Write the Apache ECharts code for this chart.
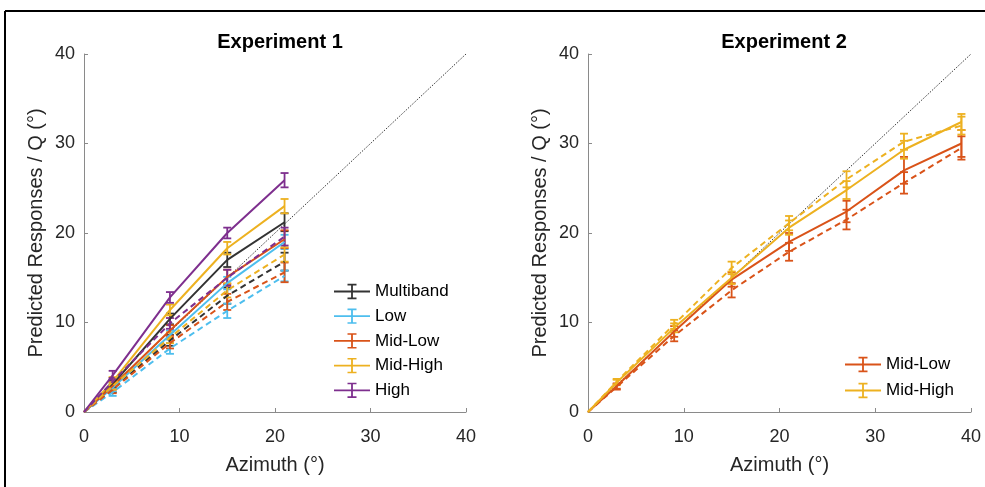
<!DOCTYPE html>
<html>
<head>
<meta charset="utf-8">
<title>Predicted responses</title>
<script src="https://cdn.jsdelivr.net/npm/echarts@6.0.0/dist/echarts.min.js"></script>
<style>
  html, body { margin: 0; padding: 0; background: #fff; }
  #chart { width: 985px; height: 487px; }
</style>
</head>
<body>
<div id="chart"></div>
<script>
// ---- data ----
var axisTicks = [0, 10, 20, 30, 40];

// Experiment 1
var exp1Azimuth = [0, 3, 9, 15, 21];
var exp1Names = ['Multiband', 'Low', 'Mid-Low', 'Mid-High', 'High'];
var exp1Resp = {
  'Multiband': [0, 3.1, 10.4, 17.0, 21.2],
  'Low':       [0, 2.7, 8.6, 14.4, 19.0],
  'Mid-Low':   [0, 2.9, 9.1, 15.1, 19.3],
  'Mid-High':  [0, 3.4, 11.4, 18.3, 23.0],
  'High':      [0, 4.1, 12.8, 20.0, 25.9]
};
var exp1RespErr = {
  'Multiband': [0, 0.4, 0.6, 0.8, 1.0],
  'Low':       [0, 0.4, 0.5, 0.7, 0.8],
  'Mid-Low':   [0, 0.4, 0.6, 0.8, 1.0],
  'Mid-High':  [0, 0.5, 0.6, 0.7, 0.8],
  'High':      [0, 0.5, 0.6, 0.6, 0.8]
};
var exp1Q = {
  'Multiband': [0, 2.6, 8.0, 13.0, 16.8],
  'Low':       [0, 2.2, 7.1, 11.3, 15.2],
  'Mid-Low':   [0, 2.5, 7.7, 12.3, 15.6],
  'Mid-High':  [0, 2.9, 8.3, 13.6, 17.6],
  'High':      [0, 3.4, 9.9, 15.0, 19.6]
};
var exp1QErr = {
  'Multiband': [0, 0.4, 0.6, 0.9, 1.0],
  'Low':       [0, 0.4, 0.6, 0.8, 0.6],
  'Mid-Low':   [0, 0.4, 0.6, 0.9, 1.1],
  'Mid-High':  [0, 0.4, 0.6, 0.8, 0.8],
  'High':      [0, 0.4, 0.6, 0.9, 1.0]
};

// Experiment 2
var exp2Azimuth = [0, 3, 9, 15, 21, 27, 33, 39];
var exp2Names = ['Mid-Low', 'Mid-High'];
var exp2Resp = {
  'Mid-Low':  [0, 2.9, 9.0, 14.8, 19.0, 22.4, 27.0, 30.0],
  'Mid-High': [0, 3.3, 9.4, 15.0, 20.6, 24.8, 29.3, 32.4]
};
var exp2RespErr = {
  'Mid-Low':  [0, 0.3, 0.6, 0.8, 1.0, 1.2, 1.5, 1.5],
  'Mid-High': [0, 0.3, 0.5, 0.7, 0.8, 1.0, 1.0, 0.9]
};
var exp2Q = {
  'Mid-Low':  [0, 2.8, 8.5, 13.6, 17.9, 21.5, 25.6, 29.5],
  'Mid-High': [0, 3.4, 9.8, 16.1, 21.1, 26.0, 30.2, 32.0]
};
var exp2QErr = {
  'Mid-Low':  [0, 0.3, 0.6, 0.8, 1.0, 1.1, 1.2, 1.3],
  'Mid-High': [0, 0.3, 0.5, 0.7, 0.8, 0.9, 0.9, 1.0]
};

var colors = {
  'Multiband': '#333333',
  'Low': '#4DBEEE',
  'Mid-Low': '#D95319',
  'Mid-High': '#EDB120',
  'High': '#7E2F8E'
};

var FONT = 'Liberation Sans';
var errIcon = 'path://M0 9H40V11H0Z M19 1.5H21V18.5H19Z M15 1.5H25V3.3H15Z M15 16.7H25V18.5H15Z';

function zipXY(xs, ys) {
  return xs.map(function (x, i) { return [x, ys[i]]; });
}

function errData(xs, ys, es) {
  var out = [];
  xs.forEach(function (x, i) {
    if (es[i] > 0) out.push([x, ys[i] - es[i], ys[i] + es[i]]);
  });
  return out;
}

function renderErr(params, api) {
  var x = api.value(0);
  var lo = api.coord([x, api.value(1)]);
  var hi = api.coord([x, api.value(2)]);
  var c = 4;
  var st = { stroke: api.visual('color'), lineWidth: 1.8 };
  return {
    type: 'group',
    children: [
      { type: 'line', shape: { x1: lo[0], y1: lo[1], x2: hi[0], y2: hi[1] }, style: st },
      { type: 'line', shape: { x1: lo[0] - c, y1: lo[1], x2: lo[0] + c, y2: lo[1] }, style: st },
      { type: 'line', shape: { x1: hi[0] - c, y1: hi[1], x2: hi[0] + c, y2: hi[1] }, style: st }
    ]
  };
}

function lineSeries(name, idx, data, color, dashed) {
  return {
    name: name, type: 'line', xAxisIndex: idx, yAxisIndex: idx,
    data: data, symbol: 'none', silent: true, animation: false,
    lineStyle: { color: color, width: 2, type: dashed ? [6, 4] : 'solid' },
    itemStyle: { color: color }
  };
}

function errSeries(name, idx, data, color) {
  return {
    name: name, type: 'custom', xAxisIndex: idx, yAxisIndex: idx,
    data: data, renderItem: renderErr, silent: true, animation: false,
    encode: { x: 0, y: [1, 2] },
    itemStyle: { color: color }
  };
}

var series = [];
[0, 1].forEach(function (idx) {
  series.push({
    name: 'unity' + idx, type: 'line', xAxisIndex: idx, yAxisIndex: idx,
    data: [[0, 0], [40, 40]], symbol: 'none', silent: true, animation: false,
    lineStyle: { color: '#000', width: 0.8, type: [1.5, 1.5] }, z: 1
  });
});

exp1Names.forEach(function (n) {
  var c = colors[n];
  series.push(lineSeries(n + ' Q', 0, zipXY(exp1Azimuth, exp1Q[n]), c, true));
  series.push(errSeries(n + ' Q', 0, errData(exp1Azimuth, exp1Q[n], exp1QErr[n]), c));
  series.push(lineSeries(n, 0, zipXY(exp1Azimuth, exp1Resp[n]), c, false));
  series.push(errSeries(n, 0, errData(exp1Azimuth, exp1Resp[n], exp1RespErr[n]), c));
});
exp2Names.forEach(function (n) {
  var c = colors[n];
  series.push(lineSeries('E2 ' + n + ' Q', 1, zipXY(exp2Azimuth, exp2Q[n]), c, true));
  series.push(errSeries('E2 ' + n + ' Q', 1, errData(exp2Azimuth, exp2Q[n], exp2QErr[n]), c));
  series.push(lineSeries('E2 ' + n, 1, zipXY(exp2Azimuth, exp2Resp[n]), c, false));
  series.push(errSeries('E2 ' + n, 1, errData(exp2Azimuth, exp2Resp[n], exp2RespErr[n]), c));
});

function makeAxis(idx, isX) {
  return {
    type: 'value', gridIndex: idx, min: 0, max: 40, interval: 10,
    name: isX ? 'Azimuth (°)' : 'Predicted Responses / Q (°)',
    nameLocation: 'middle', nameGap: isX ? 43 : 38,
    nameTextStyle: { fontFamily: FONT, fontSize: 20, color: '#262626' },
    axisLine: { show: true, lineStyle: { color: '#8a8a8a', width: 1 } },
    axisTick: { show: true, inside: true, length: 4, lineStyle: { color: '#8a8a8a' } },
    axisLabel: { fontFamily: FONT, fontSize: 18, color: '#262626', margin: isX ? 16 : 9 },
    splitLine: { show: false }
  };
}

var chart = echarts.init(document.getElementById('chart'), null, { renderer: 'canvas' });
chart.setOption({
  backgroundColor: '#fff',
  animation: false,
  title: [
    { text: 'Experiment 1', left: 275, top: 27, textAlign: 'center',
      textStyle: { fontFamily: FONT, fontSize: 20, fontWeight: 'bold', color: '#000' } },
    { text: 'Experiment 2', left: 779, top: 27, textAlign: 'center',
      textStyle: { fontFamily: FONT, fontSize: 20, fontWeight: 'bold', color: '#000' } }
  ],
  grid: [
    { left: 84, top: 54, width: 382, height: 358 },
    { left: 588, top: 54, width: 383, height: 358 }
  ],
  xAxis: [makeAxis(0, true), makeAxis(1, true)],
  yAxis: [makeAxis(0, false), makeAxis(1, false)],
  legend: [
    {
      orient: 'vertical', left: 329, top: 278, itemWidth: 36, itemHeight: 19, itemGap: 7.7,
      data: exp1Names.map(function (n) { return { name: n, icon: errIcon }; }),
      textStyle: { fontFamily: FONT, fontSize: 17, color: '#000' },
      selectedMode: false
    },
    {
      orient: 'vertical', left: 840, top: 351, itemWidth: 36, itemHeight: 19, itemGap: 9,
      data: exp2Names.map(function (n) { return { name: 'E2 ' + n, icon: errIcon }; }),
      formatter: function (name) { return name.replace('E2 ', ''); },
      textStyle: { fontFamily: FONT, fontSize: 17, color: '#000' },
      selectedMode: false
    }
  ],
  graphic: [
    { type: 'line', shape: { x1: 5, y1: 11, x2: 985, y2: 11 }, style: { stroke: '#000', lineWidth: 2 } },
    { type: 'line', shape: { x1: 5, y1: 11, x2: 5, y2: 487 }, style: { stroke: '#000', lineWidth: 2 } }
  ],
  series: series
});
</script>
</body>
</html>
